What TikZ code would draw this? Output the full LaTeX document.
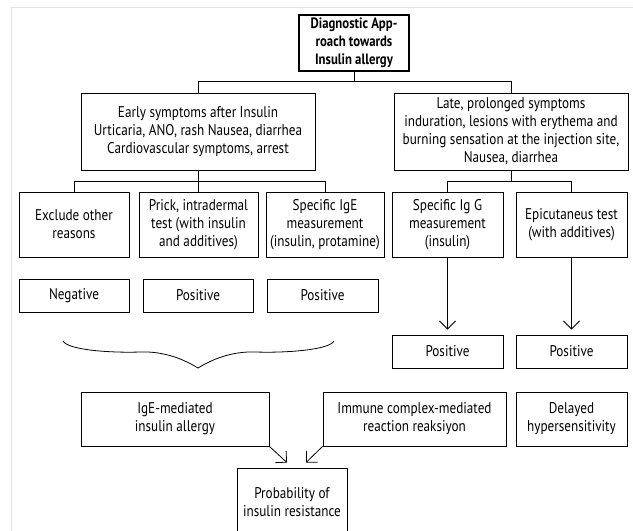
\documentclass[tikz,border=0pt]{standalone}
\usepackage{fontspec}
\setmainfont{PT Sans}[FakeStretch=0.85]
\usetikzlibrary{arrows.meta}

\begin{document}
\begin{tikzpicture}[x=1pt,y=-1pt,
  box/.style={draw,line width=0.9pt,align=center,inner sep=0pt,font=\fontsize{15.5}{18}\selectfont},
  link/.style={line width=0.9pt},
  arr/.style={line width=0.8pt,-{Straight Barb[length=8pt,width=16pt]}}]
\useasboundingbox (0,0) rectangle (633,531);
\clip (0,0) rectangle (633,531);
% frame of the figure
\draw[black!12,line width=0.8pt] (633,7) -- (11,7) -- (11,531);
% top
\node (title) at (354,43) [box,line width=1.2pt,minimum width=110pt,minimum height=56pt,font=\fontsize{15}{18}\selectfont\bfseries] {Diagnostic App-\\roach towards\\Insulin allergy};
\node (early) at (198,131.5) [box,minimum width=234pt,minimum height=77pt] {Early symptoms after Insulin\\Urticaria, ANO, rash Nausea, diarrhea\\Cardiovascular symptoms, arrest};
\node (late) at (511,131.5) [box,minimum width=234pt,minimum height=77pt] {Late, prolonged symptoms\\induration, lesions with erythema and\\burning sensation at the injection site,\\Nausea, diarrhea};
% tests
\node (excl) at (74,224.5) [box,minimum width=110pt,minimum height=65pt] {Exclude other\\reasons};
\node (prick) at (198.5,224.5) [box,minimum width=119pt,minimum height=65pt] {Prick, intradermal\\test (with insulin\\and additives)};
\node (ige) at (325,224.5) [box,minimum width=118pt,minimum height=65pt] {Specific IgE\\measurement\\(insulin, protamine)};
\node (igg) at (447.5,224.5) [box,minimum width=111pt,minimum height=65pt] {Specific Ig G\\measurement\\(insulin)};
\node (epic) at (571.5,224.5) [box,minimum width=111pt,minimum height=65pt] {Epicutaneus test\\(with additives)};
% results
\node (neg) at (74,295.5) [box,minimum width=110pt,minimum height=33pt] {Negative};
\node (posa) at (198,295.5) [box,minimum width=110pt,minimum height=33pt] {Positive};
\node (posb) at (322.5,295.5) [box,minimum width=111pt,minimum height=33pt] {Positive};
\node (posc) at (447.5,351.5) [box,minimum width=111pt,minimum height=33pt] {Positive};
\node (posd) at (571.5,351.5) [box,minimum width=111pt,minimum height=33pt] {Positive};
% reactions
\node (igem) at (175,419) [box,minimum width=188pt,minimum height=54pt] {IgE-mediated\\insulin allergy};
\node (immune) at (414.5,419) [box,minimum width=183pt,minimum height=54pt] {Immune complex-mediated\\reaction reaksiyon};
\node (delay) at (571.5,419) [box,minimum width=111pt,minimum height=54pt] {Delayed\\hypersensitivity};
\node (prob) at (292,502) [box,minimum width=110pt,minimum height=68pt] {Probability of\\insulin resistance};
% tree lines
\draw[link] (title.south) -- ++(0,10) coordinate (t1);
\draw[link] (early.north) |- (t1) -| (late.north);
\draw[link] (early.south) -- ++(0,11) coordinate (e1);
\draw[link] (excl.north) |- (e1) -| (ige.north);
\draw[link] (prick.north) -- (prick.north |- e1);
\draw[link] (late.south) -- ++(0,11) coordinate (l1);
\draw[link] (igg.north) |- (l1) -| (epic.north);
\draw[arr] (igg.south) -- ([yshift=5pt]posc.north);
\draw[arr] (epic.south) -- ([yshift=5pt]posd.north);
% brace
\draw[line width=0.8pt] (63,341) .. controls (68,350) and (110,353) .. (140,352)
  .. controls (165,351) and (185,360) .. (198,368)
  .. controls (211,360) and (231,351) .. (256,352)
  .. controls (286,353) and (329,350) .. (334,341);
\draw[arr] (igem.south east) -- ([shift={(-5,-5)}]prob.north);
\draw[arr] (immune.south west) -- ([shift={(14,-5)}]prob.north);
\end{tikzpicture}
\end{document}
